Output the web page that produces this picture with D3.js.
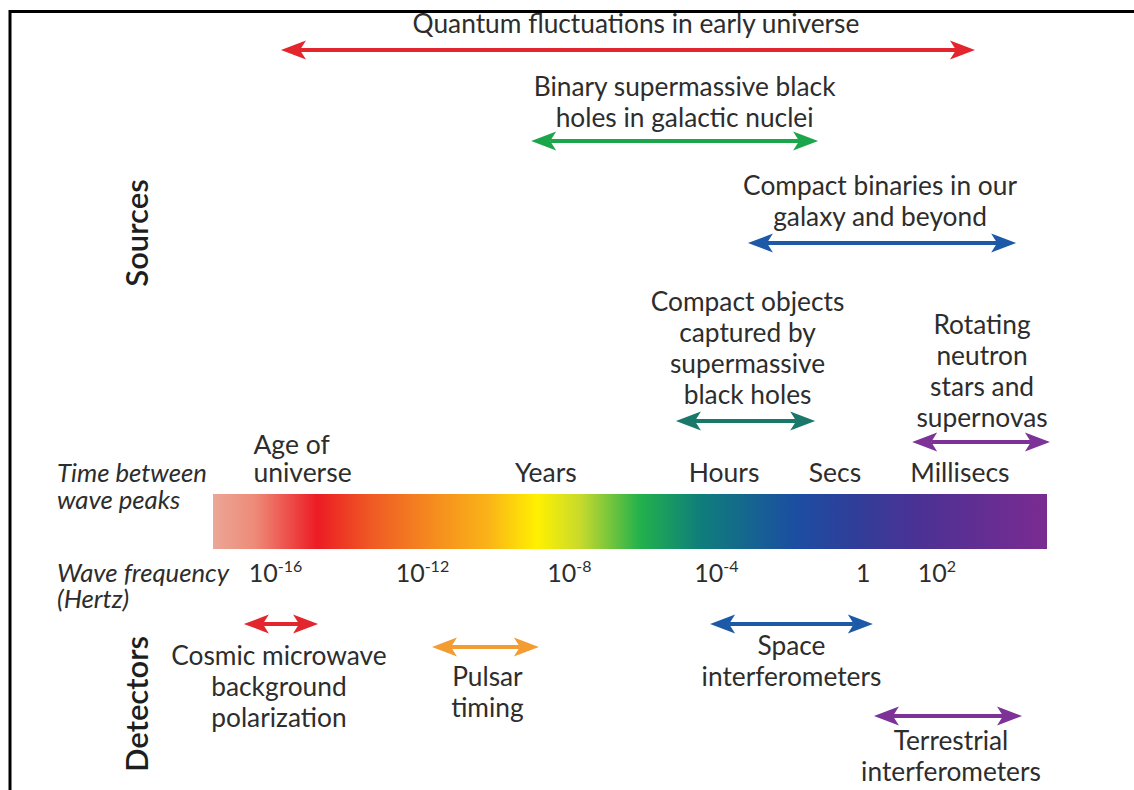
<!DOCTYPE html>
<html>
<head>
<meta charset="utf-8">
<script src="https://cdn.jsdelivr.net/npm/d3@7"></script>
<style>
  body { margin: 0; background: #fff; }
  text { font-family: Lato, "Open Sans", sans-serif; fill: #2d2d2d; }
</style>
</head>
<body>
<div id="chart-area"></div>
<script>
// Data: frequency ranges given as log10(Hz)

let tickExps = [-16, -12, -8, -4, 0, 2]
let tickBase = ["10", "10", "10", "10", "1", "10"]
let tickPower = ["-16", "-12", "-8", "-4", "", "2"]

let periodNames = ["Years", "Hours", "Secs", "Millisecs"]
let periodExps = [-8.64, -3.79, -0.77, 2.63]
let ageLines = ["Age of", "universe"]
let ageExp = -16.6

let sourceLabels = [
  ["Quantum fluctuations in early universe"],
  ["Binary supermassive black", "holes in galactic nuclei"],
  ["Compact binaries in our", "galaxy and beyond"],
  ["Compact objects", "captured by", "supermassive", "black holes"],
  ["Rotating", "neutron", "stars and", "supernovas"]
]
let sourceFrom = [-15.85, -9.04, -3.14, -5.1, 1.33]
let sourceTo = [3.04, -1.23, 4.16, -1.31, 5.08]

let detectorLabels = [
  ["Cosmic microwave", "background", "polarization"],
  ["Pulsar", "timing"],
  ["Space", "interferometers"],
  ["Terrestrial", "interferometers"]
]
let detectorFrom = [-16.86, -11.74, -4.17, 0.29]
let detectorTo = [-14.84, -8.83, 0.26, 4.32]

// colours + layout
let sourceColors = ["#e3262d", "#1ba64b", "#1c59a7", "#18796a", "#7c3296"]
let detectorColors = ["#e3262d", "#f39c32", "#1c59a7", "#7c3296"]
let sourceArrowY = [50, 141, 243, 421, 442]
let sourceTextGap = [17, 14, 17, 17, 15]
let sourceTextShift = [8, 10, -2, 2, 1]
let detectorArrowY = [624, 647, 624, 716]
let detectorTextY = [665, 686, 655, 750]
let detectorTextShift = [-2, 2, 0, 3]

let spectrumStops = [
  [0, "#eba697"], [0.05, "#ee8b78"], [0.125, "#ec1c24"], [0.19, "#ef5a24"],
  [0.26, "#f5891f"], [0.33, "#fab318"], [0.389, "#fff100"], [0.44, "#c8da2c"],
  [0.512, "#22b14c"], [0.584, "#0f7e7b"], [0.698, "#1b4ea2"], [0.764, "#2e3f99"],
  [0.848, "#4c3194"], [1, "#7b2b91"]
]

let width = 1134, height = 790
let lineH = 31
let bar = { left: 213, right: 1047, top: 494, bottom: 549 }

let svg = d3.select("#chart-area").append("svg")
  .attr("width", width)
  .attr("height", height)

// frame (top + left only)
svg.append("path")
  .attr("d", "M10,790 V11.5 H1134")
  .attr("fill", "none")
  .attr("stroke", "#000")
  .attr("stroke-width", 3)

// log frequency scale across the spectrum bar
let x = d3.scaleLog()
  .domain([Math.pow(10, -17.7), Math.pow(10, 5)])
  .range([bar.left, bar.right])
let xe = (e) => x(Math.pow(10, e))

// gradient
let grad = svg.append("defs").append("linearGradient")
  .attr("id", "spectrum")
  .attr("x1", "0%").attr("x2", "100%")
grad.selectAll("stop").data(spectrumStops).enter().append("stop")
  .attr("offset", (d) => d[0])
  .attr("stop-color", (d) => d[1])

svg.append("rect")
  .attr("x", bar.left)
  .attr("y", bar.top)
  .attr("width", bar.right - bar.left)
  .attr("height", bar.bottom - bar.top)
  .attr("fill", "url(#spectrum)")

// multi-line text as one element
function block(lines, x, y, dy, anchor) {
  let t = svg.append("text")
    .attr("x", x)
    .attr("y", y)
    .attr("text-anchor", anchor)
  t.selectAll("tspan").data(lines).enter().append("tspan")
    .attr("x", x)
    .attr("dy", (d, i) => i === 0 ? 0 : dy)
    .text((d) => d)
  return t
}

// frequency ticks
let ticks = svg.append("g").selectAll("text")
  .data(tickExps).enter().append("text")
  .attr("x", (d) => xe(d))
  .attr("y", 582)
  .attr("text-anchor", "middle")
  .style("font-size", "25px")
ticks.append("tspan").text((d, i) => tickBase[i])
ticks.append("tspan")
  .attr("dy", -10)
  .style("font-size", "16px")
  .text((d, i) => tickPower[i])

// period labels above bar
svg.append("g").selectAll("text")
  .data(periodNames).enter().append("text")
  .attr("x", (d, i) => xe(periodExps[i]))
  .attr("y", 482)
  .attr("text-anchor", "middle")
  .style("font-size", "26.5px")
  .text((d) => d)

block(ageLines, xe(ageExp), 454, 28, "start").style("font-size", "26.5px")

// side captions
block(["Time between", "wave peaks"], 57, 482, 27, "start")
  .style("font-size", "25.7px").style("font-style", "italic")
block(["Wave frequency", "(Hertz)"], 57, 582, 26, "start")
  .style("font-size", "25.7px").style("font-style", "italic")

let sideTitles = [["Sources", 233], ["Detectors", 704]]
sideTitles.forEach((t) => {
  svg.append("text")
    .attr("transform", "translate(148," + t[1] + ") rotate(-90)")
    .attr("text-anchor", "middle")
    .style("font-size", "31px")
    .style("font-weight", 600)
    .style("fill", "#1e1e1e")
    .text(t[0])
})

// double-headed arrow
function arrow(g, x1, x2, y, color) {
  let hl = 25, hw = 9.5, notch = 6
  g.append("line")
    .attr("x1", x1 + hl - notch).attr("x2", x2 - hl + notch)
    .attr("y1", y).attr("y2", y)
    .attr("stroke", color)
    .attr("stroke-width", 4)
  g.append("path")
    .attr("d", "M" + x1 + "," + y + " L" + (x1 + hl) + "," + (y - hw) +
      " L" + (x1 + hl - notch) + "," + y + " L" + (x1 + hl) + "," + (y + hw) + " Z")
    .attr("fill", color)
  g.append("path")
    .attr("d", "M" + x2 + "," + y + " L" + (x2 - hl) + "," + (y - hw) +
      " L" + (x2 - hl + notch) + "," + y + " L" + (x2 - hl) + "," + (y + hw) + " Z")
    .attr("fill", color)
}

let arrows = svg.append("g")

// sources: text sits above its arrow
sourceLabels.forEach((lines, i) => {
  let x1 = xe(sourceFrom[i]), x2 = xe(sourceTo[i])
  let y = sourceArrowY[i]
  arrow(arrows, x1, x2, y, sourceColors[i])
  block(lines, (x1 + x2) / 2 + sourceTextShift[i],
    y - sourceTextGap[i] - (lines.length - 1) * lineH, lineH, "middle")
    .style("font-size", "26.3px")
})

// detectors: text below
detectorLabels.forEach((lines, i) => {
  let x1 = xe(detectorFrom[i]), x2 = xe(detectorTo[i])
  arrow(arrows, x1, x2, detectorArrowY[i], detectorColors[i])
  block(lines, (x1 + x2) / 2 + detectorTextShift[i], detectorTextY[i], lineH, "middle")
    .style("font-size", "26.3px")
})
</script>
</body>
</html>
